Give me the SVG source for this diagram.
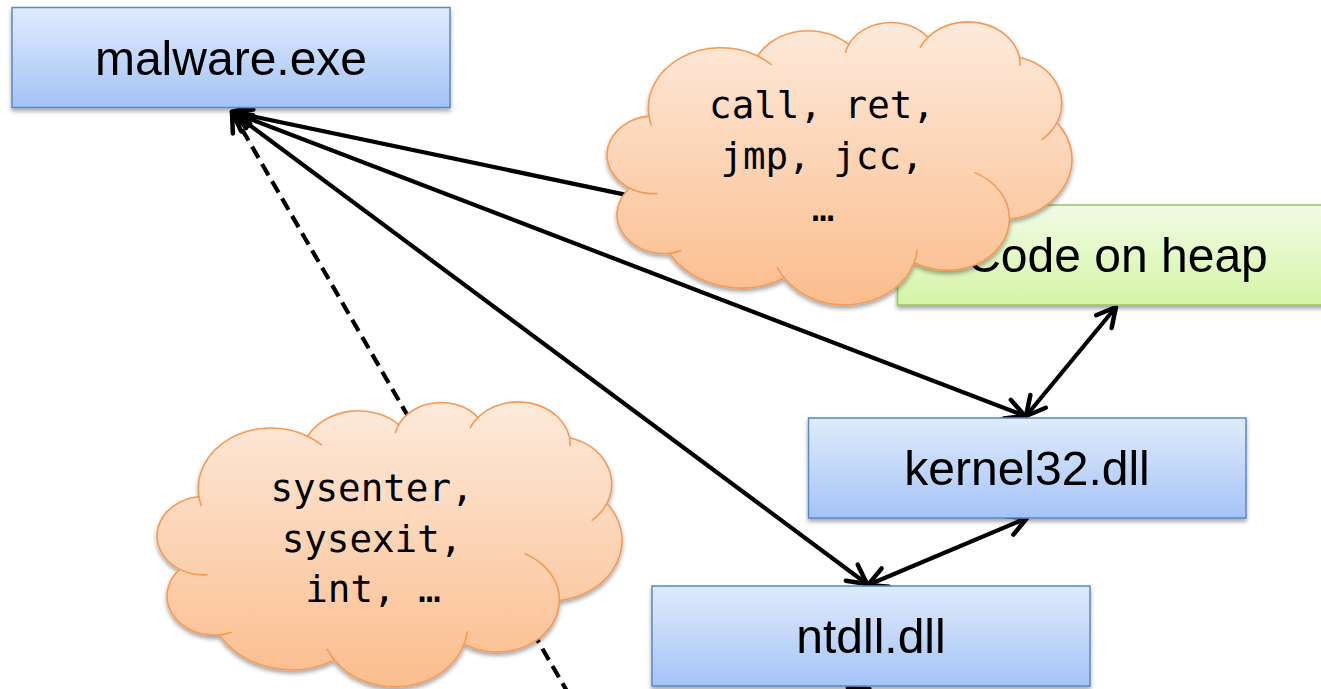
<svg xmlns="http://www.w3.org/2000/svg" xmlns:xlink="http://www.w3.org/1999/xlink" width="1321" height="689" viewBox="0 0 1321 689">
  <style>
    .box-blue { fill: url(#gradBlue); stroke: #5a88c4; stroke-width: 1.5; }
    .box-green { fill: url(#gradGreen); stroke: #9bc25e; stroke-width: 1.5; }
    .label { font-family: "Liberation Sans", Arial, sans-serif; font-size: 48px; fill: #000; text-anchor: middle; }
    .mono { font-family: "DejaVu Sans Mono", "Liberation Mono", monospace; font-size: 37.5px; fill: #000; text-anchor: middle; }
    .cloud-body { fill: url(#gradCloud); stroke: #f59a55; stroke-width: 1.6; }
    .cloud-fold { fill: none; stroke: #f59a55; stroke-width: 1.6; }
    .link { fill: none; stroke: #000; stroke-width: 4.2; }
    .dashed { stroke-dasharray: 13 7; }
  </style>
  <defs>
    <linearGradient id="gradBlue" x1="0" y1="0" x2="0" y2="1">
      <stop offset="0" stop-color="#e0ebfc"/>
      <stop offset="1" stop-color="#a4c3f6"/>
    </linearGradient>
    <linearGradient id="gradGreen" x1="0" y1="0" x2="0" y2="1">
      <stop offset="0" stop-color="#f1fbe5"/>
      <stop offset="1" stop-color="#d5f4a6"/>
    </linearGradient>
    <linearGradient id="gradCloud" x1="0" y1="0" x2="0" y2="1">
      <stop offset="0" stop-color="#fdeadb"/>
      <stop offset="1" stop-color="#fbbd8d"/>
    </linearGradient>
    <filter id="shadow" x="-10%" y="-10%" width="120%" height="130%">
      <feDropShadow dx="0" dy="3" stdDeviation="2.2" flood-color="#000" flood-opacity="0.35"/>
    </filter>
    <marker id="head" viewBox="-26 -15 30 30" refX="0" refY="0" markerWidth="30" markerHeight="30" markerUnits="userSpaceOnUse" orient="auto-start-reverse" overflow="visible">
      <path d="M -19 -10 L 0 0 L -19 10" fill="none" stroke="#000" stroke-width="4.5" stroke-linecap="round" stroke-linejoin="round"/>
    </marker>
    <!-- cloud callout outline in a 43200 x 43200 frame -->
    <path id="cloud-outline" vector-effect="non-scaling-stroke" d="M 3900 14370 A 6753 9190 0 0 1 14000 5192 A 5333 7267 0 0 1 22459 3431 A 4365 5945 0 0 1 29820 2340 A 4857 6595 0 0 1 38324 5426 A 5333 7273 0 0 1 41798 15354 A 6775 9220 0 0 1 37383 30096 A 5785 7867 0 0 1 28536 36707 A 6752 9215 0 0 1 16478 39090 A 7720 10543 0 0 1 5801 35296 A 4360 5918 0 0 1 2110 25374 A 4345 5945 0 0 1 3900 14370 Z"/>
    <!-- inner fold strokes of the cloud -->
    <path id="cloud-folds" vector-effect="non-scaling-stroke" d="M 4693 26177 A 4345 5945 0 0 1 2110 25374 M 6928 34899 A 4360 5918 0 0 1 5801 35296 M 16478 39090 A 6752 9215 0 0 1 15792 37418 M 28827 34751 A 6752 9215 0 0 1 28536 36707 M 34129 22954 A 5785 7867 0 0 1 37383 30096 M 41798 15354 A 5333 7273 0 0 1 40376 17987 M 38324 5426 A 4857 6595 0 0 1 38382 6700 M 29078 3952 A 4857 6595 0 0 1 29820 2340 M 22141 4720 A 4365 5945 0 0 1 22459 3431 M 14000 5192 A 6753 9190 0 0 1 15308 6554 M 4127 15789 A 6753 9190 0 0 1 3900 14370"/>
  </defs>

  <rect width="1321" height="689" fill="#fff"/>

  <!-- connectors -->
  <g id="connectors">
    <line class="link" x1="232" y1="112" x2="898" y2="252" marker-start="url(#head)"/>
    <line class="link" x1="232" y1="112" x2="1025" y2="416" marker-start="url(#head)" marker-end="url(#head)"/>
    <line class="link" x1="232" y1="112" x2="867" y2="584" marker-start="url(#head)" marker-end="url(#head)"/>
    <line class="link dashed" x1="232" y1="112" x2="575" y2="705" marker-start="url(#head)"/>
    <line class="link" x1="1026" y1="416" x2="1116" y2="307" marker-start="url(#head)" marker-end="url(#head)"/>
    <line class="link" x1="868" y1="585" x2="1027" y2="518" marker-start="url(#head)" marker-end="url(#head)"/>
    <line class="link" x1="990" y1="772" x2="848" y2="688" marker-end="url(#head)"/>
  </g>

  <!-- nodes -->
  <g id="malware" filter="url(#shadow)">
    <rect class="box-blue" x="12" y="7.5" width="438" height="100"/>
    <text class="label" x="231" y="75">malware.exe</text>
  </g>
  <g id="heap" filter="url(#shadow)">
    <rect class="box-green" x="897.5" y="205" width="438" height="100"/>
    <text class="label" x="1117" y="272">Code on heap</text>
  </g>
  <g id="kernel32" filter="url(#shadow)">
    <rect class="box-blue" x="808.5" y="418" width="437.5" height="100"/>
    <text class="label" x="1027" y="485">kernel32.dll</text>
  </g>
  <g id="ntdll" filter="url(#shadow)">
    <rect class="box-blue" x="652" y="586" width="438" height="100"/>
    <text class="label" x="871" y="653">ntdll.dll</text>
  </g>

  <!-- control-transfer cloud -->
  <g id="cloud-branches">
    <g filter="url(#shadow)">
      <g transform="translate(607 22) scale(0.010764 0.006551)">
        <use xlink:href="#cloud-outline" class="cloud-body"/>
        <use xlink:href="#cloud-folds" class="cloud-fold"/>
      </g>
    </g>
    <text class="mono" x="822" y="118">call, ret,</text>
    <text class="mono" x="822" y="169">jmp, jcc,</text>
    <text class="mono" x="823" y="221">…</text>
  </g>

  <!-- system-call cloud -->
  <g id="cloud-syscalls">
    <g filter="url(#shadow)">
      <g transform="translate(157 402) scale(0.010764 0.006597)">
        <use xlink:href="#cloud-outline" class="cloud-body"/>
        <use xlink:href="#cloud-folds" class="cloud-fold"/>
      </g>
    </g>
    <text class="mono" x="372" y="501">sysenter,</text>
    <text class="mono" x="372" y="552">sysexit,</text>
    <text class="mono" x="373" y="602">int, …</text>
  </g>
</svg>
